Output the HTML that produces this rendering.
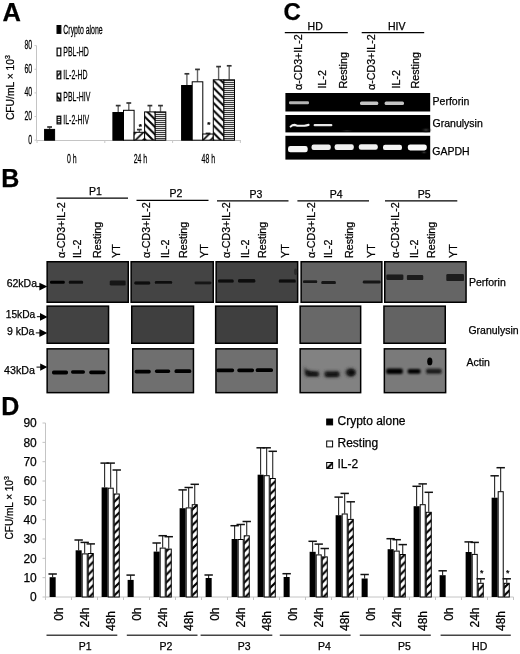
<!DOCTYPE html>
<html><head><meta charset="utf-8"><title>Figure</title>
<style>
html,body{margin:0;padding:0;background:#fff;overflow:hidden;width:520px;height:654px;}
svg{display:block;font-family:'Liberation Sans', Arial, sans-serif;}
text{stroke:#000;stroke-width:0.25px;}
</style></head>
<body>
<svg width="520" height="654" viewBox="0 0 520 654">
<defs>
<pattern id="hA1" patternUnits="userSpaceOnUse" width="7.5" height="7.5" patternTransform="translate(0.5,140.2)"><rect width="7.5" height="7.5" fill="#fff"/><path d="M-1,8.5 L8.5,-1 M-1,1 l2,-2 M6.5,8.5 l2,-2" stroke="#000" stroke-width="1.6"/></pattern>
<pattern id="hA2" patternUnits="userSpaceOnUse" width="7.5" height="7.5" patternTransform="translate(212.8,79.8)"><rect width="7.5" height="7.5" fill="#fff"/><path d="M-1,-1 l9.5,9.5 M-1,6.5 l2,2 M6.5,-1 l2,2" stroke="#000" stroke-width="2"/></pattern>
<pattern id="hA3" patternUnits="userSpaceOnUse" width="4" height="2"><rect width="4" height="2" fill="#e4e4e4"/><rect y="0" width="4" height="1" fill="#3c3c3c"/></pattern>
<pattern id="hD" patternUnits="userSpaceOnUse" width="7.8" height="7.8" patternTransform="rotate(0)"><rect width="7.8" height="7.8" fill="#fff"/><path d="M-2,9.8 L9.8,-2 M-2,2 L2,-2 M5.8,9.8 L9.8,5.8" stroke="#000" stroke-width="2.2"/></pattern>
<filter id="b05" x="-20%" y="-50%" width="140%" height="200%"><feGaussianBlur stdDeviation="0.5"/></filter>
<filter id="b06" x="-20%" y="-80%" width="140%" height="260%"><feGaussianBlur stdDeviation="0.6"/></filter>
<filter id="b08" x="-20%" y="-80%" width="140%" height="260%"><feGaussianBlur stdDeviation="0.8"/></filter>
<filter id="b10" x="-30%" y="-100%" width="160%" height="300%"><feGaussianBlur stdDeviation="1.0"/></filter>
<filter id="b15" x="-30%" y="-100%" width="160%" height="300%"><feGaussianBlur stdDeviation="1.5"/></filter>
<filter id="b12" x="-30%" y="-100%" width="160%" height="300%"><feGaussianBlur stdDeviation="1.2"/></filter>
</defs>
<rect width="520" height="654" fill="#fff"/>
<text x="2.40" y="20.60" font-size="25.5" text-anchor="start" font-weight="bold" fill="#000" >A</text>
<line x1="36.50" y1="45.60" x2="36.50" y2="140.50" stroke="#c4c4c4" stroke-width="1" />
<text transform="translate(32.20,49.10) scale(0.58,1)" font-size="12" text-anchor="end" font-weight="normal" fill="#000" >80</text>
<line x1="34.50" y1="45.60" x2="36.50" y2="45.60" stroke="#c8c8c8" stroke-width="1" />
<text transform="translate(32.20,72.80) scale(0.58,1)" font-size="12" text-anchor="end" font-weight="normal" fill="#000" >60</text>
<line x1="34.50" y1="69.25" x2="36.50" y2="69.25" stroke="#c8c8c8" stroke-width="1" />
<text transform="translate(32.20,96.30) scale(0.58,1)" font-size="12" text-anchor="end" font-weight="normal" fill="#000" >40</text>
<line x1="34.50" y1="92.90" x2="36.50" y2="92.90" stroke="#c8c8c8" stroke-width="1" />
<text transform="translate(32.20,120.10) scale(0.58,1)" font-size="12" text-anchor="end" font-weight="normal" fill="#000" >20</text>
<line x1="34.50" y1="116.55" x2="36.50" y2="116.55" stroke="#c8c8c8" stroke-width="1" />
<text transform="translate(32.20,143.70) scale(0.58,1)" font-size="12" text-anchor="end" font-weight="normal" fill="#000" >0</text>
<line x1="34.50" y1="140.20" x2="36.50" y2="140.20" stroke="#c8c8c8" stroke-width="1" />
<line x1="36.50" y1="140.50" x2="241.00" y2="140.50" stroke="#c4c4c4" stroke-width="1" />
<line x1="37.00" y1="140.20" x2="37.00" y2="143.00" stroke="#c8c8c8" stroke-width="1" />
<line x1="104.80" y1="140.20" x2="104.80" y2="143.00" stroke="#c8c8c8" stroke-width="1" />
<line x1="172.60" y1="140.20" x2="172.60" y2="143.00" stroke="#c8c8c8" stroke-width="1" />
<line x1="240.40" y1="140.20" x2="240.40" y2="143.00" stroke="#c8c8c8" stroke-width="1" />
<text transform="translate(71.80,162.50) scale(0.58,1)" font-size="12" text-anchor="middle" font-weight="normal" fill="#000" >0 h</text>
<text transform="translate(140.40,162.50) scale(0.58,1)" font-size="12" text-anchor="middle" font-weight="normal" fill="#000" >24 h</text>
<text transform="translate(208.30,162.50) scale(0.58,1)" font-size="12" text-anchor="middle" font-weight="normal" fill="#000" >48 h</text>
<text transform="translate(13.60,87.60) rotate(-90)" font-size="10.3" text-anchor="middle" font-weight="normal" fill="#000" >CFU/mL × 10<tspan font-size="7" dy="-4">3</tspan></text>
<rect x="57.10" y="25.60" width="3.70" height="7.70" fill="#000" stroke="#000" stroke-width="1.2" />
<text transform="translate(63.30,33.60) scale(0.58,1)" font-size="12" text-anchor="start" font-weight="normal" fill="#000" >Crypto alone</text>
<rect x="57.10" y="48.10" width="3.70" height="7.70" fill="#fff" stroke="#000" stroke-width="1.2" />
<text transform="translate(63.30,56.10) scale(0.58,1)" font-size="12" text-anchor="start" font-weight="normal" fill="#000" >PBL-HD</text>
<rect x="57.10" y="71.10" width="3.70" height="7.70" fill="url(#hA1)" stroke="#000" stroke-width="1.2" />
<text transform="translate(63.30,79.10) scale(0.58,1)" font-size="12" text-anchor="start" font-weight="normal" fill="#000" >IL-2-HD</text>
<rect x="57.10" y="93.20" width="3.70" height="7.70" fill="url(#hA2)" stroke="#000" stroke-width="1.2" />
<text transform="translate(63.30,101.20) scale(0.58,1)" font-size="12" text-anchor="start" font-weight="normal" fill="#000" >PBL-HIV</text>
<rect x="57.10" y="116.20" width="3.70" height="7.70" fill="url(#hA3)" stroke="#000" stroke-width="1.2" />
<text transform="translate(63.30,124.20) scale(0.58,1)" font-size="12" text-anchor="start" font-weight="normal" fill="#000" >IL-2-HIV</text>
<line x1="49.60" y1="129.40" x2="49.60" y2="127.00" stroke="#666" stroke-width="1.4" />
<line x1="47.20" y1="127.00" x2="52.00" y2="127.00" stroke="#333" stroke-width="1.7" />
<rect x="44.60" y="129.40" width="10.00" height="10.80" fill="#000" stroke="#000" stroke-width="1" />
<line x1="118.20" y1="112.50" x2="118.20" y2="105.60" stroke="#666" stroke-width="1.4" />
<line x1="115.80" y1="105.60" x2="120.60" y2="105.60" stroke="#333" stroke-width="1.7" />
<rect x="112.90" y="112.50" width="10.60" height="27.70" fill="#000" stroke="#000" stroke-width="1" />
<line x1="128.80" y1="110.30" x2="128.80" y2="103.00" stroke="#666" stroke-width="1.4" />
<line x1="126.40" y1="103.00" x2="131.20" y2="103.00" stroke="#333" stroke-width="1.7" />
<rect x="123.50" y="110.30" width="10.60" height="29.90" fill="#fff" stroke="#000" stroke-width="1" />
<line x1="139.35" y1="132.30" x2="139.35" y2="129.60" stroke="#666" stroke-width="1.4" />
<line x1="136.95" y1="129.60" x2="141.75" y2="129.60" stroke="#333" stroke-width="1.7" />
<rect x="134.10" y="132.30" width="10.50" height="7.90" fill="url(#hA1)" stroke="#000" stroke-width="1" />
<text x="140.40" y="128.50" font-size="8" text-anchor="middle" font-weight="bold" fill="#000" >*</text>
<line x1="149.90" y1="111.90" x2="149.90" y2="105.60" stroke="#666" stroke-width="1.4" />
<line x1="147.50" y1="105.60" x2="152.30" y2="105.60" stroke="#333" stroke-width="1.7" />
<rect x="144.60" y="111.90" width="10.60" height="28.30" fill="url(#hA2)" stroke="#000" stroke-width="1" />
<line x1="160.50" y1="111.90" x2="160.50" y2="105.60" stroke="#666" stroke-width="1.4" />
<line x1="158.10" y1="105.60" x2="162.90" y2="105.60" stroke="#333" stroke-width="1.7" />
<rect x="155.20" y="111.90" width="10.60" height="28.30" fill="url(#hA3)" stroke="#000" stroke-width="1" />
<line x1="186.90" y1="85.50" x2="186.90" y2="73.80" stroke="#666" stroke-width="1.4" />
<line x1="184.50" y1="73.80" x2="189.30" y2="73.80" stroke="#333" stroke-width="1.7" />
<rect x="181.60" y="85.50" width="10.60" height="54.70" fill="#000" stroke="#000" stroke-width="1" />
<line x1="197.50" y1="81.80" x2="197.50" y2="69.40" stroke="#666" stroke-width="1.4" />
<line x1="195.10" y1="69.40" x2="199.90" y2="69.40" stroke="#333" stroke-width="1.7" />
<rect x="192.20" y="81.80" width="10.60" height="58.40" fill="#fff" stroke="#000" stroke-width="1" />
<line x1="208.05" y1="134.00" x2="208.05" y2="133.40" stroke="#666" stroke-width="1.4" />
<line x1="205.65" y1="133.40" x2="210.45" y2="133.40" stroke="#333" stroke-width="1.7" />
<rect x="202.80" y="134.00" width="10.50" height="6.20" fill="url(#hA1)" stroke="#000" stroke-width="1" />
<text x="208.70" y="127.20" font-size="8" text-anchor="middle" font-weight="bold" fill="#000" >*</text>
<line x1="218.60" y1="79.80" x2="218.60" y2="66.60" stroke="#666" stroke-width="1.4" />
<line x1="216.20" y1="66.60" x2="221.00" y2="66.60" stroke="#333" stroke-width="1.7" />
<rect x="213.30" y="79.80" width="10.60" height="60.40" fill="url(#hA2)" stroke="#000" stroke-width="1" />
<line x1="229.20" y1="79.80" x2="229.20" y2="65.80" stroke="#666" stroke-width="1.4" />
<line x1="226.80" y1="65.80" x2="231.60" y2="65.80" stroke="#333" stroke-width="1.7" />
<rect x="223.90" y="79.80" width="10.60" height="60.40" fill="url(#hA3)" stroke="#000" stroke-width="1" />
<text x="283.40" y="20.00" font-size="24" text-anchor="start" font-weight="bold" fill="#000" >C</text>
<text x="315.20" y="29.60" font-size="10.5" text-anchor="middle" font-weight="normal" fill="#000" >HD</text>
<text x="396.70" y="29.60" font-size="10.5" text-anchor="middle" font-weight="normal" fill="#000" >HIV</text>
<line x1="284.80" y1="32.60" x2="347.80" y2="32.60" stroke="#000" stroke-width="1.3" />
<line x1="361.70" y1="32.60" x2="424.20" y2="32.60" stroke="#000" stroke-width="1.3" />
<text transform="translate(301.80,90.00) rotate(-90)" font-size="10.7" text-anchor="start" font-weight="normal" fill="#000" >α-CD3+IL-2</text>
<text transform="translate(326.00,88.40) rotate(-90)" font-size="10.7" text-anchor="start" font-weight="normal" fill="#000" >IL-2</text>
<text transform="translate(346.60,88.40) rotate(-90)" font-size="10.7" text-anchor="start" font-weight="normal" fill="#000" >Resting</text>
<text transform="translate(374.70,90.00) rotate(-90)" font-size="10.7" text-anchor="start" font-weight="normal" fill="#000" >α-CD3+IL-2</text>
<text transform="translate(399.60,88.40) rotate(-90)" font-size="10.7" text-anchor="start" font-weight="normal" fill="#000" >IL-2</text>
<text transform="translate(418.80,88.40) rotate(-90)" font-size="10.7" text-anchor="start" font-weight="normal" fill="#000" >Resting</text>
<rect x="285.40" y="93.00" width="144.80" height="18.50" fill="#000" />
<rect x="285.40" y="115.00" width="144.80" height="17.40" fill="#000" />
<rect x="285.40" y="135.80" width="144.80" height="23.80" fill="#000" />
<g filter="url(#b05)">
<rect x="289.00" y="101.30" width="20.00" height="2.90" fill="#b4b4b4" rx="1.2"/>
<rect x="360.00" y="101.50" width="18.30" height="3.40" fill="#c4c4c4" rx="1.5"/>
<rect x="384.60" y="101.60" width="19.40" height="3.30" fill="#c4c4c4" rx="1.5"/>
<path d="M290.6,126.6 Q292.2,124.9 294.6,124.9 L297.2,125.7 L304.4,125.7 Q306.6,125.3 308.6,124.9" stroke="#f2f2f2" stroke-width="2.1" fill="none" stroke-linecap="round"/>
<rect x="313.60" y="124.10" width="18.80" height="2.20" fill="#e8e8e8" rx="1.1"/>
<rect x="288.00" y="146.10" width="19.70" height="6.20" fill="#f6f6f6" rx="2.4"/>
<rect x="311.50" y="144.60" width="19.30" height="5.40" fill="#eeeeee" rx="2.2"/>
<rect x="334.60" y="144.30" width="19.20" height="5.60" fill="#f0f0f0" rx="2.2"/>
<rect x="358.80" y="144.20" width="19.00" height="5.50" fill="#f0f0f0" rx="2.2"/>
<rect x="383.00" y="144.70" width="19.00" height="5.40" fill="#f4f4f4" rx="2.2"/>
<rect x="407.80" y="144.40" width="19.00" height="6.00" fill="#fafafa" rx="2.4"/>
</g>
<radialGradient id="sm1" cx="0.5" cy="0.5" r="0.5"><stop offset="0" stop-color="#3a3a3a"/><stop offset="1" stop-color="#000" stop-opacity="0"/></radialGradient>
<ellipse cx="426" cy="130" rx="6" ry="3" fill="url(#sm1)"/>
<ellipse cx="424" cy="152.5" rx="4" ry="2" fill="url(#sm1)"/>
<ellipse cx="347" cy="130.8" rx="8" ry="1.4" fill="url(#sm1)" opacity="0.8"/>
<text x="432.60" y="105.00" font-size="10.5" text-anchor="start" font-weight="normal" fill="#000" >Perforin</text>
<text x="432.60" y="126.50" font-size="10.5" text-anchor="start" font-weight="normal" fill="#000" >Granulysin</text>
<text x="432.30" y="155.00" font-size="10.5" text-anchor="start" font-weight="normal" fill="#000" >GAPDH</text>
<text x="1.20" y="186.60" font-size="25" text-anchor="start" font-weight="bold" fill="#000" >B</text>
<line x1="56.50" y1="198.20" x2="128.00" y2="198.20" stroke="#000" stroke-width="1.3" />
<text x="95.50" y="195.00" font-size="10.5" text-anchor="middle" font-weight="normal" fill="#000" >P1</text>
<line x1="136.50" y1="200.40" x2="208.50" y2="200.40" stroke="#000" stroke-width="1.3" />
<text x="175.80" y="197.20" font-size="10.5" text-anchor="middle" font-weight="normal" fill="#000" >P2</text>
<line x1="217.00" y1="200.80" x2="288.50" y2="200.80" stroke="#000" stroke-width="1.3" />
<text x="255.80" y="197.60" font-size="10.5" text-anchor="middle" font-weight="normal" fill="#000" >P3</text>
<line x1="297.40" y1="200.80" x2="369.00" y2="200.80" stroke="#000" stroke-width="1.3" />
<text x="336.20" y="197.60" font-size="10.5" text-anchor="middle" font-weight="normal" fill="#000" >P4</text>
<line x1="385.00" y1="200.80" x2="457.30" y2="200.80" stroke="#000" stroke-width="1.3" />
<text x="424.20" y="197.60" font-size="10.5" text-anchor="middle" font-weight="normal" fill="#000" >P5</text>
<text transform="translate(65.00,258.00) rotate(-90)" font-size="10.7" text-anchor="start" font-weight="normal" fill="#000" >α-CD3+IL-2</text>
<text transform="translate(80.70,258.00) rotate(-90)" font-size="10.7" text-anchor="start" font-weight="normal" fill="#000" >IL-2</text>
<text transform="translate(100.90,258.00) rotate(-90)" font-size="10.7" text-anchor="start" font-weight="normal" fill="#000" >Resting</text>
<text transform="translate(120.00,258.00) rotate(-90)" font-size="10.7" text-anchor="start" font-weight="normal" fill="#000" >YT</text>
<text transform="translate(150.40,258.00) rotate(-90)" font-size="10.7" text-anchor="start" font-weight="normal" fill="#000" >α-CD3+IL-2</text>
<text transform="translate(169.20,258.00) rotate(-90)" font-size="10.7" text-anchor="start" font-weight="normal" fill="#000" >IL-2</text>
<text transform="translate(186.60,258.00) rotate(-90)" font-size="10.7" text-anchor="start" font-weight="normal" fill="#000" >Resting</text>
<text transform="translate(208.40,258.00) rotate(-90)" font-size="10.7" text-anchor="start" font-weight="normal" fill="#000" >YT</text>
<text transform="translate(230.20,258.00) rotate(-90)" font-size="10.7" text-anchor="start" font-weight="normal" fill="#000" >α-CD3+IL-2</text>
<text transform="translate(249.30,258.00) rotate(-90)" font-size="10.7" text-anchor="start" font-weight="normal" fill="#000" >IL-2</text>
<text transform="translate(266.40,258.00) rotate(-90)" font-size="10.7" text-anchor="start" font-weight="normal" fill="#000" >Resting</text>
<text transform="translate(289.00,258.00) rotate(-90)" font-size="10.7" text-anchor="start" font-weight="normal" fill="#000" >YT</text>
<text transform="translate(314.60,258.00) rotate(-90)" font-size="10.7" text-anchor="start" font-weight="normal" fill="#000" >α-CD3+IL-2</text>
<text transform="translate(332.30,258.00) rotate(-90)" font-size="10.7" text-anchor="start" font-weight="normal" fill="#000" >IL-2</text>
<text transform="translate(352.90,258.00) rotate(-90)" font-size="10.7" text-anchor="start" font-weight="normal" fill="#000" >Resting</text>
<text transform="translate(374.70,258.00) rotate(-90)" font-size="10.7" text-anchor="start" font-weight="normal" fill="#000" >YT</text>
<text transform="translate(398.80,258.00) rotate(-90)" font-size="10.7" text-anchor="start" font-weight="normal" fill="#000" >α-CD3+IL-2</text>
<text transform="translate(418.40,258.00) rotate(-90)" font-size="10.7" text-anchor="start" font-weight="normal" fill="#000" >IL-2</text>
<text transform="translate(435.30,258.00) rotate(-90)" font-size="10.7" text-anchor="start" font-weight="normal" fill="#000" >Resting</text>
<text transform="translate(456.80,258.00) rotate(-90)" font-size="10.7" text-anchor="start" font-weight="normal" fill="#000" >YT</text>
<rect x="47.15" y="261.75" width="81.10" height="40.50" fill="#464646" stroke="#000" stroke-width="1.5" />
<rect x="131.15" y="261.75" width="82.10" height="40.50" fill="#444444" stroke="#000" stroke-width="1.5" />
<rect x="216.15" y="261.75" width="81.50" height="40.50" fill="#424242" stroke="#000" stroke-width="1.5" />
<rect x="301.15" y="261.75" width="80.70" height="40.50" fill="#616161" stroke="#000" stroke-width="1.5" />
<rect x="384.75" y="261.75" width="81.30" height="40.50" fill="#656565" stroke="#000" stroke-width="1.5" />
<rect x="47.15" y="306.15" width="61.40" height="37.10" fill="#424242" stroke="#000" stroke-width="1.5" />
<rect x="131.75" y="306.15" width="61.80" height="37.10" fill="#3f3f3f" stroke="#000" stroke-width="1.5" />
<rect x="215.65" y="306.15" width="61.50" height="37.10" fill="#3f3f3f" stroke="#000" stroke-width="1.5" />
<rect x="300.15" y="306.15" width="60.50" height="37.10" fill="#686868" stroke="#000" stroke-width="1.5" />
<rect x="383.95" y="306.15" width="61.30" height="37.10" fill="#636363" stroke="#000" stroke-width="1.5" />
<rect x="47.15" y="348.85" width="61.50" height="43.80" fill="#727272" stroke="#000" stroke-width="1.5" />
<rect x="132.75" y="348.85" width="60.70" height="43.80" fill="#6f6f6f" stroke="#000" stroke-width="1.5" />
<rect x="215.95" y="348.85" width="61.10" height="43.80" fill="#6f6f6f" stroke="#000" stroke-width="1.5" />
<rect x="300.15" y="348.85" width="60.50" height="43.80" fill="#828282" stroke="#000" stroke-width="1.5" />
<rect x="384.35" y="348.85" width="61.30" height="43.80" fill="#7a7a7a" stroke="#000" stroke-width="1.5" />
<g filter="url(#b06)">
<rect x="50.00" y="280.80" width="14.80" height="3.00" fill="#050505" rx="1.2"/>
<rect x="68.80" y="280.70" width="14.30" height="3.00" fill="#0a0a0a" rx="1.2"/>
<rect x="109.80" y="280.50" width="15.80" height="5.00" fill="#161616" rx="1.2"/>
<rect x="134.40" y="281.60" width="15.80" height="2.80" fill="#0a0a0a" rx="1.2"/>
<rect x="154.80" y="281.00" width="17.40" height="2.80" fill="#0a0a0a" rx="1.2"/>
<rect x="194.50" y="281.60" width="16.90" height="2.60" fill="#121212" rx="1.2"/>
<rect x="218.10" y="279.60" width="15.50" height="3.00" fill="#080808" rx="1.2"/>
<rect x="238.00" y="279.20" width="17.30" height="3.20" fill="#080808" rx="1.2"/>
<rect x="278.80" y="279.60" width="17.00" height="3.00" fill="#0c0c0c" rx="1.2"/>
<rect x="303.00" y="280.30" width="14.20" height="2.80" fill="#181818" rx="1.2"/>
<rect x="321.30" y="281.10" width="14.50" height="3.00" fill="#141414" rx="1.2"/>
<rect x="362.80" y="280.50" width="17.80" height="3.00" fill="#181818" rx="1.2"/>
<rect x="386.30" y="274.50" width="17.10" height="5.40" fill="#1c1c1c" rx="1.2"/>
<rect x="406.90" y="274.90" width="16.30" height="5.20" fill="#1c1c1c" rx="1.2"/>
<rect x="446.30" y="274.10" width="17.70" height="7.00" fill="#1e1e1e" rx="1.2"/>
</g>
<ellipse cx="295.6" cy="271.8" rx="1.6" ry="3.2" fill="#2a2a2a" filter="url(#b06)"/>
<g filter="url(#b06)">
<rect x="52.00" y="370.60" width="16.00" height="3.80" fill="#030303" rx="1.6"/>
<rect x="71.00" y="370.30" width="14.00" height="3.40" fill="#030303" rx="1.6"/>
<rect x="89.20" y="370.60" width="16.50" height="3.60" fill="#030303" rx="1.6"/>
<rect x="134.60" y="369.80" width="16.20" height="3.60" fill="#030303" rx="1.6"/>
<rect x="154.90" y="369.50" width="15.30" height="3.40" fill="#030303" rx="1.6"/>
<rect x="174.50" y="369.30" width="16.80" height="3.80" fill="#030303" rx="1.6"/>
<rect x="216.30" y="368.40" width="17.80" height="3.80" fill="#030303" rx="1.6"/>
<rect x="237.30" y="368.40" width="16.70" height="3.80" fill="#030303" rx="1.6"/>
<rect x="255.70" y="368.20" width="17.30" height="3.80" fill="#030303" rx="1.6"/>
</g>
<g filter="url(#b15)" fill="#2a2a2a">
<path d="M304.5,366.5 Q306,370.5 311,371 L319,371.5 L319,376.5 L306,376.5 Q303.8,374 304.5,366.5 Z"/>
<rect x="324.2" y="371" width="15.4" height="6.2" rx="2"/>
<ellipse cx="350.6" cy="372.5" rx="5.2" ry="4.2"/>
</g>
<g filter="url(#b08)" fill="#0a0a0a">
<path d="M306.5,370.5 Q309,372.4 313,372.6 L318,373 L318,375.6 L308,375.4 Q306,374.4 306.5,370.5 Z"/>
<path d="M326,372.8 Q331,373.6 338,372.4 L338.4,376 L326.4,376.2 Z"/>
<ellipse cx="351.3" cy="372.6" rx="3.6" ry="2.8"/>
</g>
<g filter="url(#b08)">
<rect x="386.20" y="368.60" width="16.60" height="5.40" fill="#050505" rx="1.8"/>
<rect x="407.60" y="368.90" width="13.00" height="4.80" fill="#050505" rx="1.8"/>
<rect x="426.00" y="368.80" width="15.60" height="5.00" fill="#1c1c1c" rx="1.8"/>
</g>
<ellipse cx="429.8" cy="361.4" rx="2.6" ry="3.9" fill="#000" filter="url(#b05)"/>
<text x="37.00" y="287.30" font-size="10.5" text-anchor="end" font-weight="normal" fill="#000" >62kDa</text>
<line x1="36.50" y1="286.60" x2="41.00" y2="286.60" stroke="#000" stroke-width="1" />
<path d="M39.4,282.7 L47.4,286.6 L39.4,290.5 Z" fill="#000"/>
<text x="35.20" y="317.90" font-size="10.2" text-anchor="end" font-weight="normal" fill="#000" >15kDa</text>
<line x1="36.90" y1="316.70" x2="42.00" y2="316.70" stroke="#000" stroke-width="1" />
<path d="M40.0,313.0 L47.6,316.9 L40.0,320.8 Z" fill="#000"/>
<text x="34.40" y="334.60" font-size="10.5" text-anchor="end" font-weight="normal" fill="#000" >9 kDa</text>
<line x1="35.80" y1="332.90" x2="41.00" y2="332.90" stroke="#000" stroke-width="1" />
<path d="M39.4,329.1 L47.4,333.0 L39.4,336.9 Z" fill="#000"/>
<text x="35.00" y="374.20" font-size="10.7" text-anchor="end" font-weight="normal" fill="#000" >43kDa</text>
<line x1="36.50" y1="367.10" x2="42.50" y2="367.10" stroke="#000" stroke-width="1" />
<path d="M40.2,363.4 L47.4,367.1 L40.2,370.8 Z" fill="#000"/>
<text x="469.00" y="286.00" font-size="10.5" text-anchor="start" font-weight="normal" fill="#000" >Perforin</text>
<text x="468.40" y="333.60" font-size="10.5" text-anchor="start" font-weight="normal" fill="#000" >Granulysin</text>
<text x="466.60" y="366.10" font-size="10.5" text-anchor="start" font-weight="normal" fill="#000" >Actin</text>
<text x="1.20" y="415.40" font-size="25" text-anchor="start" font-weight="bold" fill="#000" >D</text>
<line x1="45.50" y1="423.00" x2="45.50" y2="597.00" stroke="#c4c4c4" stroke-width="1" />
<line x1="42.50" y1="597.00" x2="45.50" y2="597.00" stroke="#c4c4c4" stroke-width="1" />
<text x="36.80" y="601.20" font-size="12" text-anchor="end" font-weight="normal" fill="#000" >0</text>
<line x1="42.50" y1="577.67" x2="45.50" y2="577.67" stroke="#c4c4c4" stroke-width="1" />
<text x="36.80" y="581.87" font-size="12" text-anchor="end" font-weight="normal" fill="#000" >10</text>
<line x1="42.50" y1="558.34" x2="45.50" y2="558.34" stroke="#c4c4c4" stroke-width="1" />
<text x="36.80" y="562.54" font-size="12" text-anchor="end" font-weight="normal" fill="#000" >20</text>
<line x1="42.50" y1="539.01" x2="45.50" y2="539.01" stroke="#c4c4c4" stroke-width="1" />
<text x="36.80" y="543.21" font-size="12" text-anchor="end" font-weight="normal" fill="#000" >30</text>
<line x1="42.50" y1="519.68" x2="45.50" y2="519.68" stroke="#c4c4c4" stroke-width="1" />
<text x="36.80" y="523.88" font-size="12" text-anchor="end" font-weight="normal" fill="#000" >40</text>
<line x1="42.50" y1="500.35" x2="45.50" y2="500.35" stroke="#c4c4c4" stroke-width="1" />
<text x="36.80" y="504.55" font-size="12" text-anchor="end" font-weight="normal" fill="#000" >50</text>
<line x1="42.50" y1="481.02" x2="45.50" y2="481.02" stroke="#c4c4c4" stroke-width="1" />
<text x="36.80" y="485.22" font-size="12" text-anchor="end" font-weight="normal" fill="#000" >60</text>
<line x1="42.50" y1="461.69" x2="45.50" y2="461.69" stroke="#c4c4c4" stroke-width="1" />
<text x="36.80" y="465.89" font-size="12" text-anchor="end" font-weight="normal" fill="#000" >70</text>
<line x1="42.50" y1="442.36" x2="45.50" y2="442.36" stroke="#c4c4c4" stroke-width="1" />
<text x="36.80" y="446.56" font-size="12" text-anchor="end" font-weight="normal" fill="#000" >80</text>
<line x1="42.50" y1="423.03" x2="45.50" y2="423.03" stroke="#c4c4c4" stroke-width="1" />
<text x="36.80" y="427.23" font-size="12" text-anchor="end" font-weight="normal" fill="#000" >90</text>
<line x1="45.50" y1="597.00" x2="513.50" y2="597.00" stroke="#c4c4c4" stroke-width="1" />
<line x1="45.50" y1="597.00" x2="45.50" y2="600.00" stroke="#c4c4c4" stroke-width="1" />
<line x1="71.50" y1="597.00" x2="71.50" y2="600.00" stroke="#c4c4c4" stroke-width="1" />
<line x1="97.50" y1="597.00" x2="97.50" y2="600.00" stroke="#c4c4c4" stroke-width="1" />
<line x1="123.50" y1="597.00" x2="123.50" y2="600.00" stroke="#c4c4c4" stroke-width="1" />
<line x1="149.50" y1="597.00" x2="149.50" y2="600.00" stroke="#c4c4c4" stroke-width="1" />
<line x1="175.50" y1="597.00" x2="175.50" y2="600.00" stroke="#c4c4c4" stroke-width="1" />
<line x1="201.50" y1="597.00" x2="201.50" y2="600.00" stroke="#c4c4c4" stroke-width="1" />
<line x1="227.50" y1="597.00" x2="227.50" y2="600.00" stroke="#c4c4c4" stroke-width="1" />
<line x1="253.50" y1="597.00" x2="253.50" y2="600.00" stroke="#c4c4c4" stroke-width="1" />
<line x1="279.50" y1="597.00" x2="279.50" y2="600.00" stroke="#c4c4c4" stroke-width="1" />
<line x1="305.50" y1="597.00" x2="305.50" y2="600.00" stroke="#c4c4c4" stroke-width="1" />
<line x1="331.50" y1="597.00" x2="331.50" y2="600.00" stroke="#c4c4c4" stroke-width="1" />
<line x1="357.50" y1="597.00" x2="357.50" y2="600.00" stroke="#c4c4c4" stroke-width="1" />
<line x1="383.50" y1="597.00" x2="383.50" y2="600.00" stroke="#c4c4c4" stroke-width="1" />
<line x1="409.50" y1="597.00" x2="409.50" y2="600.00" stroke="#c4c4c4" stroke-width="1" />
<line x1="435.50" y1="597.00" x2="435.50" y2="600.00" stroke="#c4c4c4" stroke-width="1" />
<line x1="461.50" y1="597.00" x2="461.50" y2="600.00" stroke="#c4c4c4" stroke-width="1" />
<line x1="487.50" y1="597.00" x2="487.50" y2="600.00" stroke="#c4c4c4" stroke-width="1" />
<line x1="513.50" y1="597.00" x2="513.50" y2="600.00" stroke="#c4c4c4" stroke-width="1" />
<text transform="translate(12.80,507.80) rotate(-90)" font-size="10" text-anchor="middle" font-weight="normal" fill="#000" >CFU/mL × 10<tspan font-size="7" dy="-4">3</tspan></text>
<rect x="326.70" y="419.00" width="5.90" height="5.90" fill="#000" stroke="#000" stroke-width="1" />
<text x="337.50" y="424.80" font-size="12" text-anchor="start" font-weight="normal" fill="#000" >Crypto alone</text>
<rect x="326.70" y="441.00" width="5.90" height="5.90" fill="#fff" stroke="#000" stroke-width="1" />
<text x="337.50" y="446.80" font-size="12" text-anchor="start" font-weight="normal" fill="#000" >Resting</text>
<rect x="326.70" y="462.50" width="5.90" height="5.90" fill="url(#hD)" stroke="#000" stroke-width="1" />
<text x="337.50" y="468.30" font-size="12" text-anchor="start" font-weight="normal" fill="#000" >IL-2</text>
<line x1="52.65" y1="577.20" x2="52.65" y2="574.00" stroke="#111" stroke-width="1" />
<line x1="48.45" y1="574.00" x2="56.85" y2="574.00" stroke="#111" stroke-width="1.5" />
<rect x="49.62" y="577.20" width="6.05" height="19.80" fill="#000" />
<line x1="78.65" y1="550.30" x2="78.65" y2="540.00" stroke="#111" stroke-width="1" />
<line x1="74.45" y1="540.00" x2="82.85" y2="540.00" stroke="#111" stroke-width="1.5" />
<rect x="75.62" y="550.30" width="6.05" height="46.70" fill="#000" />
<line x1="84.70" y1="553.40" x2="84.70" y2="542.40" stroke="#111" stroke-width="1" />
<line x1="80.50" y1="542.40" x2="88.90" y2="542.40" stroke="#111" stroke-width="1.5" />
<rect x="82.17" y="553.90" width="5.05" height="43.10" fill="#fff" stroke="#000" stroke-width="1" />
<line x1="90.75" y1="553.00" x2="90.75" y2="543.90" stroke="#111" stroke-width="1" />
<line x1="86.55" y1="543.90" x2="94.95" y2="543.90" stroke="#111" stroke-width="1.5" />
<rect x="88.22" y="553.50" width="5.05" height="43.50" fill="url(#hD)" stroke="#000" stroke-width="1" />
<line x1="104.65" y1="487.40" x2="104.65" y2="463.10" stroke="#111" stroke-width="1" />
<line x1="100.45" y1="463.10" x2="108.85" y2="463.10" stroke="#111" stroke-width="1.5" />
<rect x="101.62" y="487.40" width="6.05" height="109.60" fill="#000" />
<line x1="110.70" y1="487.70" x2="110.70" y2="463.10" stroke="#111" stroke-width="1" />
<line x1="106.50" y1="463.10" x2="114.90" y2="463.10" stroke="#111" stroke-width="1.5" />
<rect x="108.17" y="488.20" width="5.05" height="108.80" fill="#fff" stroke="#000" stroke-width="1" />
<line x1="116.75" y1="493.50" x2="116.75" y2="470.00" stroke="#111" stroke-width="1" />
<line x1="112.55" y1="470.00" x2="120.95" y2="470.00" stroke="#111" stroke-width="1.5" />
<rect x="114.22" y="494.00" width="5.05" height="103.00" fill="url(#hD)" stroke="#000" stroke-width="1" />
<line x1="130.65" y1="579.90" x2="130.65" y2="575.10" stroke="#111" stroke-width="1" />
<line x1="126.45" y1="575.10" x2="134.85" y2="575.10" stroke="#111" stroke-width="1.5" />
<rect x="127.62" y="579.90" width="6.05" height="17.10" fill="#000" />
<line x1="156.65" y1="551.60" x2="156.65" y2="543.00" stroke="#111" stroke-width="1" />
<line x1="152.45" y1="543.00" x2="160.85" y2="543.00" stroke="#111" stroke-width="1.5" />
<rect x="153.62" y="551.60" width="6.05" height="45.40" fill="#000" />
<line x1="162.70" y1="547.60" x2="162.70" y2="535.70" stroke="#111" stroke-width="1" />
<line x1="158.50" y1="535.70" x2="166.90" y2="535.70" stroke="#111" stroke-width="1.5" />
<rect x="160.18" y="548.10" width="5.05" height="48.90" fill="#fff" stroke="#000" stroke-width="1" />
<line x1="168.75" y1="548.60" x2="168.75" y2="536.70" stroke="#111" stroke-width="1" />
<line x1="164.55" y1="536.70" x2="172.95" y2="536.70" stroke="#111" stroke-width="1.5" />
<rect x="166.22" y="549.10" width="5.05" height="47.90" fill="url(#hD)" stroke="#000" stroke-width="1" />
<line x1="182.65" y1="508.20" x2="182.65" y2="489.90" stroke="#111" stroke-width="1" />
<line x1="178.45" y1="489.90" x2="186.85" y2="489.90" stroke="#111" stroke-width="1.5" />
<rect x="179.62" y="508.20" width="6.05" height="88.80" fill="#000" />
<line x1="188.70" y1="507.40" x2="188.70" y2="487.50" stroke="#111" stroke-width="1" />
<line x1="184.50" y1="487.50" x2="192.90" y2="487.50" stroke="#111" stroke-width="1.5" />
<rect x="186.18" y="507.90" width="5.05" height="89.10" fill="#fff" stroke="#000" stroke-width="1" />
<line x1="194.75" y1="504.20" x2="194.75" y2="484.30" stroke="#111" stroke-width="1" />
<line x1="190.55" y1="484.30" x2="198.95" y2="484.30" stroke="#111" stroke-width="1.5" />
<rect x="192.22" y="504.70" width="5.05" height="92.30" fill="url(#hD)" stroke="#000" stroke-width="1" />
<line x1="208.65" y1="578.00" x2="208.65" y2="575.00" stroke="#111" stroke-width="1" />
<line x1="204.45" y1="575.00" x2="212.85" y2="575.00" stroke="#111" stroke-width="1.5" />
<rect x="205.62" y="578.00" width="6.05" height="19.00" fill="#000" />
<line x1="234.65" y1="539.00" x2="234.65" y2="525.70" stroke="#111" stroke-width="1" />
<line x1="230.45" y1="525.70" x2="238.85" y2="525.70" stroke="#111" stroke-width="1.5" />
<rect x="231.62" y="539.00" width="6.05" height="58.00" fill="#000" />
<line x1="240.70" y1="539.00" x2="240.70" y2="524.50" stroke="#111" stroke-width="1" />
<line x1="236.50" y1="524.50" x2="244.90" y2="524.50" stroke="#111" stroke-width="1.5" />
<rect x="238.18" y="539.50" width="5.05" height="57.50" fill="#fff" stroke="#000" stroke-width="1" />
<line x1="246.75" y1="535.30" x2="246.75" y2="521.50" stroke="#111" stroke-width="1" />
<line x1="242.55" y1="521.50" x2="250.95" y2="521.50" stroke="#111" stroke-width="1.5" />
<rect x="244.22" y="535.80" width="5.05" height="61.20" fill="url(#hD)" stroke="#000" stroke-width="1" />
<line x1="260.65" y1="474.70" x2="260.65" y2="447.80" stroke="#111" stroke-width="1" />
<line x1="256.45" y1="447.80" x2="264.85" y2="447.80" stroke="#111" stroke-width="1.5" />
<rect x="257.62" y="474.70" width="6.05" height="122.30" fill="#000" />
<line x1="266.70" y1="475.20" x2="266.70" y2="447.80" stroke="#111" stroke-width="1" />
<line x1="262.50" y1="447.80" x2="270.90" y2="447.80" stroke="#111" stroke-width="1.5" />
<rect x="264.18" y="475.70" width="5.05" height="121.30" fill="#fff" stroke="#000" stroke-width="1" />
<line x1="272.75" y1="478.00" x2="272.75" y2="451.30" stroke="#111" stroke-width="1" />
<line x1="268.55" y1="451.30" x2="276.95" y2="451.30" stroke="#111" stroke-width="1.5" />
<rect x="270.23" y="478.50" width="5.05" height="118.50" fill="url(#hD)" stroke="#000" stroke-width="1" />
<line x1="286.65" y1="577.00" x2="286.65" y2="573.70" stroke="#111" stroke-width="1" />
<line x1="282.45" y1="573.70" x2="290.85" y2="573.70" stroke="#111" stroke-width="1.5" />
<rect x="283.62" y="577.00" width="6.05" height="20.00" fill="#000" />
<line x1="312.65" y1="551.80" x2="312.65" y2="541.30" stroke="#111" stroke-width="1" />
<line x1="308.45" y1="541.30" x2="316.85" y2="541.30" stroke="#111" stroke-width="1.5" />
<rect x="309.62" y="551.80" width="6.05" height="45.20" fill="#000" />
<line x1="318.70" y1="554.40" x2="318.70" y2="544.10" stroke="#111" stroke-width="1" />
<line x1="314.50" y1="544.10" x2="322.90" y2="544.10" stroke="#111" stroke-width="1.5" />
<rect x="316.18" y="554.90" width="5.05" height="42.10" fill="#fff" stroke="#000" stroke-width="1" />
<line x1="324.75" y1="556.40" x2="324.75" y2="548.50" stroke="#111" stroke-width="1" />
<line x1="320.55" y1="548.50" x2="328.95" y2="548.50" stroke="#111" stroke-width="1.5" />
<rect x="322.23" y="556.90" width="5.05" height="40.10" fill="url(#hD)" stroke="#000" stroke-width="1" />
<line x1="338.65" y1="515.20" x2="338.65" y2="497.10" stroke="#111" stroke-width="1" />
<line x1="334.45" y1="497.10" x2="342.85" y2="497.10" stroke="#111" stroke-width="1.5" />
<rect x="335.62" y="515.20" width="6.05" height="81.80" fill="#000" />
<line x1="344.70" y1="513.50" x2="344.70" y2="493.40" stroke="#111" stroke-width="1" />
<line x1="340.50" y1="493.40" x2="348.90" y2="493.40" stroke="#111" stroke-width="1.5" />
<rect x="342.18" y="514.00" width="5.05" height="83.00" fill="#fff" stroke="#000" stroke-width="1" />
<line x1="350.75" y1="518.90" x2="350.75" y2="501.80" stroke="#111" stroke-width="1" />
<line x1="346.55" y1="501.80" x2="354.95" y2="501.80" stroke="#111" stroke-width="1.5" />
<rect x="348.23" y="519.40" width="5.05" height="77.60" fill="url(#hD)" stroke="#000" stroke-width="1" />
<line x1="364.65" y1="578.50" x2="364.65" y2="574.50" stroke="#111" stroke-width="1" />
<line x1="360.45" y1="574.50" x2="368.85" y2="574.50" stroke="#111" stroke-width="1.5" />
<rect x="361.62" y="578.50" width="6.05" height="18.50" fill="#000" />
<line x1="390.65" y1="549.20" x2="390.65" y2="538.70" stroke="#111" stroke-width="1" />
<line x1="386.45" y1="538.70" x2="394.85" y2="538.70" stroke="#111" stroke-width="1.5" />
<rect x="387.62" y="549.20" width="6.05" height="47.80" fill="#000" />
<line x1="396.70" y1="550.60" x2="396.70" y2="539.70" stroke="#111" stroke-width="1" />
<line x1="392.50" y1="539.70" x2="400.90" y2="539.70" stroke="#111" stroke-width="1.5" />
<rect x="394.18" y="551.10" width="5.05" height="45.90" fill="#fff" stroke="#000" stroke-width="1" />
<line x1="402.75" y1="554.00" x2="402.75" y2="544.60" stroke="#111" stroke-width="1" />
<line x1="398.55" y1="544.60" x2="406.95" y2="544.60" stroke="#111" stroke-width="1.5" />
<rect x="400.23" y="554.50" width="5.05" height="42.50" fill="url(#hD)" stroke="#000" stroke-width="1" />
<line x1="416.65" y1="506.20" x2="416.65" y2="486.30" stroke="#111" stroke-width="1" />
<line x1="412.45" y1="486.30" x2="420.85" y2="486.30" stroke="#111" stroke-width="1.5" />
<rect x="413.62" y="506.20" width="6.05" height="90.80" fill="#000" />
<line x1="422.70" y1="504.20" x2="422.70" y2="483.90" stroke="#111" stroke-width="1" />
<line x1="418.50" y1="483.90" x2="426.90" y2="483.90" stroke="#111" stroke-width="1.5" />
<rect x="420.18" y="504.70" width="5.05" height="92.30" fill="#fff" stroke="#000" stroke-width="1" />
<line x1="428.75" y1="511.80" x2="428.75" y2="492.30" stroke="#111" stroke-width="1" />
<line x1="424.55" y1="492.30" x2="432.95" y2="492.30" stroke="#111" stroke-width="1.5" />
<rect x="426.23" y="512.30" width="5.05" height="84.70" fill="url(#hD)" stroke="#000" stroke-width="1" />
<line x1="442.65" y1="575.20" x2="442.65" y2="570.80" stroke="#111" stroke-width="1" />
<line x1="438.45" y1="570.80" x2="446.85" y2="570.80" stroke="#111" stroke-width="1.5" />
<rect x="439.62" y="575.20" width="6.05" height="21.80" fill="#000" />
<line x1="468.65" y1="552.00" x2="468.65" y2="541.90" stroke="#111" stroke-width="1" />
<line x1="464.45" y1="541.90" x2="472.85" y2="541.90" stroke="#111" stroke-width="1.5" />
<rect x="465.62" y="552.00" width="6.05" height="45.00" fill="#000" />
<line x1="474.70" y1="553.90" x2="474.70" y2="542.40" stroke="#111" stroke-width="1" />
<line x1="470.50" y1="542.40" x2="478.90" y2="542.40" stroke="#111" stroke-width="1.5" />
<rect x="472.18" y="554.40" width="5.05" height="42.60" fill="#fff" stroke="#000" stroke-width="1" />
<line x1="480.75" y1="582.80" x2="480.75" y2="578.80" stroke="#111" stroke-width="1" />
<line x1="476.55" y1="578.80" x2="484.95" y2="578.80" stroke="#111" stroke-width="1.5" />
<rect x="478.23" y="583.30" width="5.05" height="13.70" fill="url(#hD)" stroke="#000" stroke-width="1" />
<text x="481.75" y="576.30" font-size="9" text-anchor="middle" font-weight="normal" fill="#000" >*</text>
<line x1="494.65" y1="497.70" x2="494.65" y2="475.80" stroke="#111" stroke-width="1" />
<line x1="490.45" y1="475.80" x2="498.85" y2="475.80" stroke="#111" stroke-width="1.5" />
<rect x="491.62" y="497.70" width="6.05" height="99.30" fill="#000" />
<line x1="500.70" y1="491.20" x2="500.70" y2="467.70" stroke="#111" stroke-width="1" />
<line x1="496.50" y1="467.70" x2="504.90" y2="467.70" stroke="#111" stroke-width="1.5" />
<rect x="498.18" y="491.70" width="5.05" height="105.30" fill="#fff" stroke="#000" stroke-width="1" />
<line x1="506.75" y1="582.80" x2="506.75" y2="578.80" stroke="#111" stroke-width="1" />
<line x1="502.55" y1="578.80" x2="510.95" y2="578.80" stroke="#111" stroke-width="1.5" />
<rect x="504.23" y="583.30" width="5.05" height="13.70" fill="url(#hD)" stroke="#000" stroke-width="1" />
<text x="507.75" y="576.30" font-size="9" text-anchor="middle" font-weight="normal" fill="#000" >*</text>
<text transform="translate(62.80,607.50) rotate(-90)" font-size="12" text-anchor="end" font-weight="normal" fill="#000" >0h</text>
<text transform="translate(88.80,607.50) rotate(-90)" font-size="12" text-anchor="end" font-weight="normal" fill="#000" >24h</text>
<text transform="translate(114.80,611.00) rotate(-90)" font-size="12" text-anchor="end" font-weight="normal" fill="#000" >48h</text>
<text transform="translate(140.80,607.50) rotate(-90)" font-size="12" text-anchor="end" font-weight="normal" fill="#000" >0h</text>
<text transform="translate(166.80,607.50) rotate(-90)" font-size="12" text-anchor="end" font-weight="normal" fill="#000" >24h</text>
<text transform="translate(192.80,611.00) rotate(-90)" font-size="12" text-anchor="end" font-weight="normal" fill="#000" >48h</text>
<text transform="translate(218.80,607.50) rotate(-90)" font-size="12" text-anchor="end" font-weight="normal" fill="#000" >0h</text>
<text transform="translate(244.80,607.50) rotate(-90)" font-size="12" text-anchor="end" font-weight="normal" fill="#000" >24h</text>
<text transform="translate(270.80,611.00) rotate(-90)" font-size="12" text-anchor="end" font-weight="normal" fill="#000" >48h</text>
<text transform="translate(296.80,607.50) rotate(-90)" font-size="12" text-anchor="end" font-weight="normal" fill="#000" >0h</text>
<text transform="translate(322.80,607.50) rotate(-90)" font-size="12" text-anchor="end" font-weight="normal" fill="#000" >24h</text>
<text transform="translate(348.80,611.00) rotate(-90)" font-size="12" text-anchor="end" font-weight="normal" fill="#000" >48h</text>
<text transform="translate(374.80,607.50) rotate(-90)" font-size="12" text-anchor="end" font-weight="normal" fill="#000" >0h</text>
<text transform="translate(400.80,607.50) rotate(-90)" font-size="12" text-anchor="end" font-weight="normal" fill="#000" >24h</text>
<text transform="translate(426.80,611.00) rotate(-90)" font-size="12" text-anchor="end" font-weight="normal" fill="#000" >48h</text>
<text transform="translate(452.80,607.50) rotate(-90)" font-size="12" text-anchor="end" font-weight="normal" fill="#000" >0h</text>
<text transform="translate(478.80,607.50) rotate(-90)" font-size="12" text-anchor="end" font-weight="normal" fill="#000" >24h</text>
<text transform="translate(504.80,611.00) rotate(-90)" font-size="12" text-anchor="end" font-weight="normal" fill="#000" >48h</text>
<line x1="46.50" y1="635.30" x2="117.30" y2="635.30" stroke="#444" stroke-width="1.5" />
<text x="85.20" y="650.00" font-size="10.5" text-anchor="middle" font-weight="normal" fill="#000" >P1</text>
<line x1="126.80" y1="635.30" x2="197.50" y2="635.30" stroke="#444" stroke-width="1.5" />
<text x="165.90" y="650.00" font-size="10.5" text-anchor="middle" font-weight="normal" fill="#000" >P2</text>
<line x1="200.60" y1="635.30" x2="272.30" y2="635.30" stroke="#444" stroke-width="1.5" />
<text x="244.20" y="650.00" font-size="10.5" text-anchor="middle" font-weight="normal" fill="#000" >P3</text>
<line x1="279.80" y1="635.30" x2="350.60" y2="635.30" stroke="#444" stroke-width="1.5" />
<text x="324.30" y="650.00" font-size="10.5" text-anchor="middle" font-weight="normal" fill="#000" >P4</text>
<line x1="359.80" y1="635.30" x2="430.80" y2="635.30" stroke="#444" stroke-width="1.5" />
<text x="404.30" y="650.00" font-size="10.5" text-anchor="middle" font-weight="normal" fill="#000" >P5</text>
<line x1="440.60" y1="635.30" x2="510.80" y2="635.30" stroke="#444" stroke-width="1.5" />
<text x="479.70" y="650.00" font-size="10.5" text-anchor="middle" font-weight="normal" fill="#000" >HD</text>
</svg>
</body></html>
